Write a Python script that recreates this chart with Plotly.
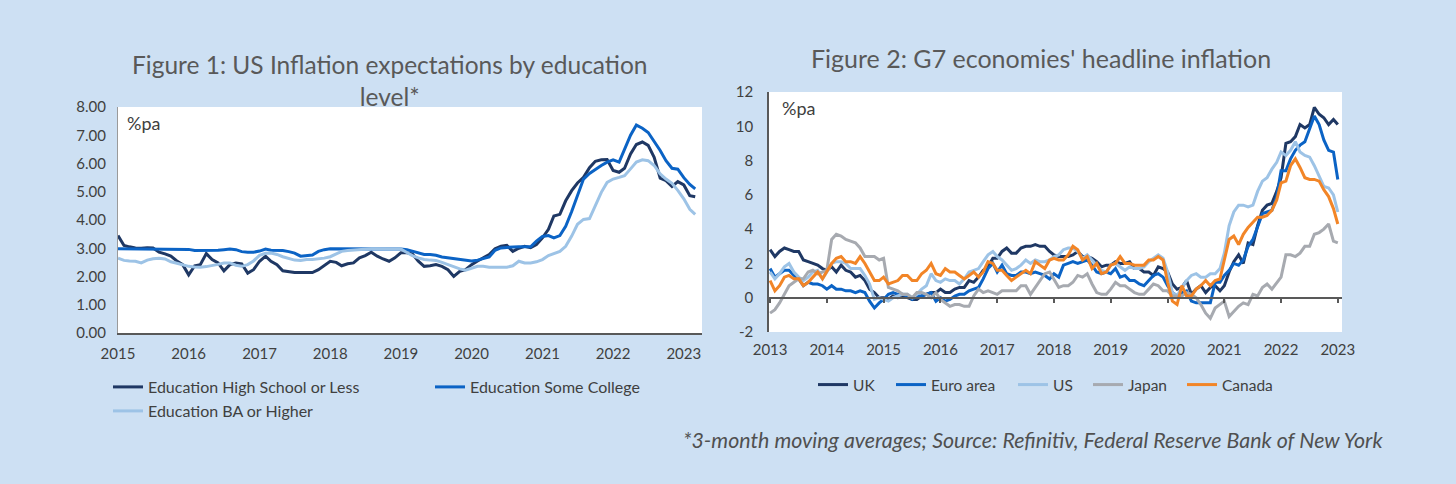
import pandas as pd
import plotly.graph_objects as go

# ---------------- Figure 1 data (monthly, Jan 2015 - Mar 2023) ----------------
edu_dates = pd.date_range("2015-01-01", periods=99, freq="MS")
high_school = [
    3.45, 3.10, 3.05, 3.01, 3.00, 3.02, 3.01, 2.86, 2.80, 2.72, 2.55, 2.42,
    2.06, 2.38, 2.42, 2.81, 2.60, 2.48, 2.20, 2.42, 2.48, 2.45, 2.12, 2.24,
    2.54, 2.72, 2.54, 2.42, 2.20, 2.17, 2.14, 2.14, 2.14, 2.14, 2.24, 2.38,
    2.54, 2.50, 2.38, 2.45, 2.48, 2.66, 2.74, 2.86, 2.72, 2.62, 2.54, 2.66,
    2.84, 2.84, 2.80, 2.54, 2.36, 2.38, 2.42, 2.36, 2.24, 2.00, 2.18, 2.24,
    2.42, 2.55, 2.65, 2.78, 2.98, 3.07, 3.10, 2.89, 3.00, 3.07, 3.02, 3.13,
    3.37, 3.67, 4.14, 4.20, 4.68, 5.04, 5.31, 5.51, 5.85, 6.08, 6.13, 6.14,
    5.75, 5.69, 5.83, 6.34, 6.67, 6.76, 6.64, 6.22, 5.48, 5.39, 5.19, 5.36,
    5.24, 4.86, 4.82,
]
some_college = [
    2.98, 2.98, 2.98, 2.98, 2.98, 2.98, 2.98, 2.98, 2.98, 2.98, 2.98, 2.97,
    2.96, 2.92, 2.92, 2.92, 2.92, 2.93, 2.95, 2.97, 2.95, 2.88, 2.86, 2.86,
    2.90, 2.97, 2.93, 2.93, 2.92, 2.88, 2.83, 2.72, 2.74, 2.76, 2.89, 2.95,
    2.98, 2.98, 2.98, 2.98, 2.98, 2.98, 2.99, 2.99, 2.99, 2.98, 2.98, 2.98,
    2.97, 2.95, 2.90, 2.86, 2.78, 2.78, 2.75, 2.69, 2.66, 2.64, 2.60, 2.57,
    2.55, 2.58, 2.63, 2.69, 2.93, 3.01, 3.03, 3.05, 3.05, 3.05, 3.05, 3.25,
    3.42, 3.45, 3.37, 3.45, 3.78, 4.30, 4.90, 5.45, 5.65, 5.80, 5.93, 6.05,
    6.13, 6.05, 6.50, 7.00, 7.36, 7.25, 7.10, 6.80, 6.46, 6.10, 5.83, 5.80,
    5.50, 5.26, 5.10,
]
ba_or_higher = [
    2.65, 2.57, 2.55, 2.54, 2.48, 2.58, 2.63, 2.65, 2.62, 2.52, 2.47, 2.42,
    2.36, 2.34, 2.33, 2.35, 2.38, 2.43, 2.48, 2.48, 2.40, 2.36, 2.42, 2.55,
    2.75, 2.82, 2.83, 2.78, 2.70, 2.65, 2.58, 2.57, 2.60, 2.60, 2.62, 2.65,
    2.70, 2.80, 2.89, 2.92, 2.94, 2.95, 2.96, 2.98, 2.98, 2.98, 2.98, 2.98,
    2.97, 2.85, 2.74, 2.66, 2.60, 2.58, 2.57, 2.50, 2.42, 2.34, 2.27, 2.22,
    2.30, 2.36, 2.36, 2.33, 2.33, 2.33, 2.33, 2.38, 2.54, 2.48, 2.48, 2.52,
    2.60, 2.74, 2.80, 2.89, 3.07, 3.43, 3.85, 4.02, 4.05, 4.50, 4.98, 5.33,
    5.45, 5.51, 5.57, 5.81, 6.05, 6.13, 6.10, 5.93, 5.63, 5.45, 5.30, 5.05,
    4.75, 4.38, 4.20,
]
edu_years = [2015, 2016, 2017, 2018, 2019, 2020, 2021, 2022, 2023]
edu_ticks = [0.0, 1.0, 2.0, 3.0, 4.0, 5.0, 6.0, 7.0, 8.0]

# ---------------- Figure 2 data (monthly, Mar 2013 - Mar 2023) ----------------
g7_dates = pd.date_range("2013-03-01", periods=121, freq="MS")
uk = [
    2.8, 2.4, 2.7, 2.9, 2.8, 2.7, 2.7, 2.2, 2.1, 2.0,
    1.9, 1.7, 1.6, 1.8, 1.5, 1.9, 1.6, 1.5, 1.2, 1.3, 1.0, 0.5,
    0.3, 0.0, 0.0, -0.1, 0.1, 0.0, 0.1, 0.0, -0.1, -0.1, 0.1, 0.2,
    0.3, 0.3, 0.5, 0.3, 0.3, 0.5, 0.6, 0.6, 1.0, 0.9, 1.2, 1.6,
    1.8, 2.3, 2.3, 2.7, 2.9, 2.6, 2.6, 2.9, 3.0, 3.0, 3.1, 3.0,
    3.0, 2.7, 2.5, 2.4, 2.4, 2.4, 2.5, 2.7, 2.4, 2.4, 2.3, 2.1,
    1.8, 1.9, 1.9, 2.1, 2.0, 2.0, 2.1, 1.7, 1.7, 1.5, 1.5, 1.3,
    1.8, 1.7, 1.5, 0.8, 0.5, 0.6, 1.0, 0.2, 0.5, 0.7, 0.3, 0.6,
    0.7, 0.4, 0.7, 1.5, 2.1, 2.5, 2.0, 3.2, 3.1, 4.2, 5.1, 5.4,
    5.5, 6.2, 7.0, 9.0, 9.1, 9.4, 10.1, 9.9, 10.1, 11.1, 10.7, 10.5,
    10.1, 10.4, 10.1,
]
euro_area = [
    1.7, 1.2, 1.4, 1.6, 1.6, 1.3, 1.1, 0.7, 0.9, 0.8,
    0.8, 0.7, 0.5, 0.7, 0.5, 0.5, 0.4, 0.4, 0.3, 0.4, 0.3, -0.2,
    -0.6, -0.3, -0.1, 0.2, 0.3, 0.2, 0.2, 0.1, -0.1, 0.1, 0.1, 0.2,
    0.3, -0.2, 0.0, -0.2, -0.1, 0.1, 0.2, 0.2, 0.4, 0.5, 0.6, 1.1,
    1.7, 2.0, 1.5, 1.9, 1.4, 1.3, 1.3, 1.5, 1.5, 1.4, 1.5, 1.4,
    1.3, 1.1, 1.4, 1.2, 1.9, 2.0, 2.1, 2.0, 2.1, 2.2, 1.9, 1.5,
    1.4, 1.5, 1.4, 1.7, 1.2, 1.3, 1.0, 1.0, 0.8, 0.7, 1.0, 1.3,
    1.4, 1.2, 0.7, 0.3, 0.1, 0.3, 0.4, -0.2, -0.3, -0.3, -0.3, -0.3,
    0.9, 0.9, 1.3, 1.6, 2.0, 1.9, 2.2, 3.0, 3.4, 4.1, 4.9, 5.0,
    5.1, 5.9, 7.4, 7.4, 8.1, 8.6, 8.9, 9.1, 9.9, 10.6, 10.1, 9.2,
    8.6, 8.5, 6.9,
]
us = [
    1.5, 1.1, 1.4, 1.8, 2.0, 1.5, 1.2, 1.0, 1.2, 1.5,
    1.6, 1.1, 1.5, 2.0, 2.1, 2.1, 2.0, 1.7, 1.7, 1.7, 1.3, 0.8,
    -0.1, 0.0, -0.1, -0.2, 0.0, 0.1, 0.2, 0.2, 0.0, 0.2, 0.5, 0.7,
    1.4, 1.0, 0.9, 1.1, 1.0, 1.0, 0.8, 1.1, 1.5, 1.6, 1.7, 2.1,
    2.5, 2.7, 2.4, 2.2, 1.9, 1.6, 1.7, 1.9, 2.2, 2.0, 2.2, 2.1,
    2.1, 2.2, 2.4, 2.5, 2.8, 2.9, 2.9, 2.7, 2.3, 2.5, 2.2, 1.9,
    1.6, 1.5, 1.9, 2.0, 1.8, 1.6, 1.8, 1.7, 1.7, 1.8, 2.1, 2.3,
    2.5, 2.3, 1.5, 0.3, 0.1, 0.6, 1.0, 1.3, 1.4, 1.2, 1.2, 1.4,
    1.4, 1.7, 2.6, 4.2, 5.0, 5.4, 5.4, 5.3, 5.4, 6.2, 6.8, 7.0,
    7.5, 7.9, 8.5, 8.3, 8.6, 9.1, 8.5, 8.3, 8.2, 7.7, 7.1, 6.5,
    6.4, 6.0, 5.0,
]
japan = [
    -0.9, -0.7, -0.3, 0.2, 0.7, 0.9, 1.1, 1.1, 1.5, 1.6,
    1.4, 1.5, 1.6, 3.4, 3.7, 3.6, 3.4, 3.3, 3.2, 2.9, 2.4, 2.4,
    2.4, 2.2, 2.3, 0.6, 0.5, 0.4, 0.2, 0.2, 0.0, 0.3, 0.3, 0.2,
    0.0, 0.3, -0.1, -0.3, -0.5, -0.4, -0.4, -0.5, -0.5, 0.1, 0.5, 0.3,
    0.4, 0.3, 0.2, 0.4, 0.4, 0.4, 0.4, 0.7, 0.7, 0.2, 0.6, 1.0,
    1.4, 1.5, 1.1, 0.6, 0.7, 0.7, 0.9, 1.3, 1.2, 1.4, 0.8, 0.3,
    0.2, 0.2, 0.5, 0.9, 0.7, 0.7, 0.5, 0.3, 0.2, 0.2, 0.5, 0.8,
    0.7, 0.4, 0.4, 0.1, 0.1, 0.1, 0.3, 0.2, 0.0, -0.4, -0.9, -1.2,
    -0.6, -0.4, -0.2, -1.1, -0.8, -0.5, -0.3, -0.4, 0.2, 0.1, 0.6, 0.8,
    0.5, 0.9, 1.2, 2.5, 2.5, 2.4, 2.6, 3.0, 3.0, 3.7, 3.8, 4.0,
    4.3, 3.3, 3.2,
]
canada = [
    1.0, 0.4, 0.7, 1.2, 1.3, 1.1, 1.1, 0.7, 0.9, 1.2,
    1.5, 1.1, 1.5, 2.0, 2.3, 2.4, 2.1, 2.1, 2.0, 2.4, 2.0, 1.5,
    1.0, 1.0, 1.2, 0.8, 0.9, 1.0, 1.3, 1.3, 1.0, 1.0, 1.4, 1.6,
    2.0, 1.4, 1.3, 1.7, 1.5, 1.5, 1.3, 1.1, 1.3, 1.5, 1.2, 1.5,
    2.1, 2.0, 1.6, 1.6, 1.3, 1.0, 1.2, 1.4, 1.6, 1.4, 2.1, 1.9,
    1.7, 2.2, 2.3, 2.2, 2.2, 2.5, 3.0, 2.8, 2.2, 2.4, 1.7, 2.0,
    1.4, 1.5, 1.9, 2.0, 2.4, 2.0, 2.0, 1.9, 1.9, 1.9, 2.2, 2.2,
    2.4, 2.2, 0.9, -0.2, -0.4, 0.7, 0.1, 0.1, 0.5, 0.7, 1.0, 0.7,
    1.0, 1.1, 2.2, 3.4, 3.6, 3.1, 3.7, 4.1, 4.4, 4.7, 4.7, 4.8,
    5.1, 5.7, 6.7, 6.8, 7.7, 8.1, 7.6, 7.0, 6.9, 6.9, 6.8, 6.3,
    5.9, 5.2, 4.3,
]
g7_years = list(range(2013, 2024))
g7_ticks = [-2, 0, 2, 4, 6, 8, 10, 12]
g7_tick_text = ["-2", "0", "2", "4", "6", "8", "10", "12"]

# ---------------- styling ----------------
BG = "#cde0f3"
FONT = "Lato"
TXT = "#404040"
NAVY, BLUE, LIGHT, GREY, ORANGE = "#1f3864", "#0b63c5", "#9dc3e6", "#a7aab0", "#f28527"
W, H = 1456, 484


def px_x(p):
    return p / W


def px_y(p):
    return 1 - p / H


fig = go.Figure()

# each series gets its own one-item legend box, placed as in the reference
edu_series = [
    ("Education High School or Less", high_school, NAVY, "legend", 108, 387),
    ("Education Some College", some_college, BLUE, "legend2", 430, 387),
    ("Education BA or Higher", ba_or_higher, LIGHT, "legend3", 108, 411),
]
g7_series = [
    ("UK", uk, NAVY, "legend4", 813, 385),
    ("Euro area", euro_area, BLUE, "legend5", 891, 385),
    ("US", us, LIGHT, "legend6", 1013, 385),
    ("Japan", japan, GREY, "legend7", 1088, 385),
    ("Canada", canada, ORANGE, "legend8", 1182, 385),
]

legends = {}
for name, vals, col, lg, lx, ly in edu_series:
    fig.add_trace(go.Scatter(x=edu_dates, y=vals, name=name, mode="lines",
                             line=dict(color=col, width=3), xaxis="x", yaxis="y",
                             legend=lg))
    legends[lg] = dict(x=px_x(lx), y=px_y(ly), xanchor="left", yanchor="middle",
                       orientation="h", bgcolor="rgba(0,0,0,0)",
                       font=dict(family=FONT, size=16, color=TXT))
for name, vals, col, lg, lx, ly in g7_series:
    fig.add_trace(go.Scatter(x=g7_dates, y=vals, name=name, mode="lines",
                             line=dict(color=col, width=3), xaxis="x2", yaxis="y2",
                             legend=lg))
    legends[lg] = dict(x=px_x(lx), y=px_y(ly), xanchor="left", yanchor="middle",
                       orientation="h", bgcolor="rgba(0,0,0,0)",
                       font=dict(family=FONT, size=15.5, color=TXT))

# helper (empty) trace so the zero-line axis with tick marks is drawn
fig.add_trace(go.Scatter(x=[], y=[], xaxis="x3", yaxis="y2", showlegend=False,
                         hoverinfo="skip"))

d1 = [px_y(333), px_y(107)]
d2 = [px_y(332), px_y(92)]
zero_pos = d2[0] + (0 - (-2)) / 14 * (d2[1] - d2[0])

tickfont = dict(family=FONT, size=15, color=TXT)

fig.update_layout(
    width=W, height=H,
    margin=dict(l=0, r=0, t=0, b=0, pad=0, autoexpand=False),
    paper_bgcolor=BG, plot_bgcolor="white",
    font=dict(family=FONT, color=TXT),
    showlegend=True,
    xaxis=dict(domain=[px_x(118), px_x(702)], anchor="y", type="date",
               range=["2015-01-01", "2023-04-05"],
               tickvals=[f"{y}-01-01" for y in edu_years],
               ticktext=[str(y) for y in edu_years],
               showgrid=False, zeroline=False, showline=True,
               linecolor="#595959", linewidth=1.5, ticks="",
               tickfont=tickfont, ticklabelstandoff=6, automargin=False),
    yaxis=dict(domain=d1, anchor="x", range=[0, 8], tickvals=edu_ticks,
               tickformat=".2f", showgrid=False, zeroline=False, showline=True,
               linecolor="#9a9a9a", linewidth=1, ticks="",
               tickfont=tickfont, ticklabelstandoff=8, automargin=False),
    xaxis2=dict(domain=[px_x(769), px_x(1342)], anchor="y2", type="date",
                range=["2013-02-22", "2023-03-28"],
                tickvals=[f"{y}-03-01" for y in g7_years],
                ticktext=[str(y) for y in g7_years],
                showgrid=False, zeroline=False, showline=False, ticks="",
                tickfont=tickfont, ticklabelstandoff=7, automargin=False),
    xaxis3=dict(matches="x2", overlaying="x2", anchor="free", position=zero_pos,
                type="date",
                tickvals=[f"{y}-03-01" for y in g7_years],
                showticklabels=False, showgrid=False, zeroline=False,
                showline=True, linecolor="#595959", linewidth=1.5,
                ticks="outside", ticklen=5, tickwidth=1.5, tickcolor="#595959",
                automargin=False),
    yaxis2=dict(domain=d2, anchor="x2", range=[-2, 12], tickvals=g7_ticks,
                ticktext=g7_tick_text,
                showgrid=False, zeroline=False, showline=True,
                linecolor="#595959", linewidth=1.5, ticks="",
                tickfont=tickfont, ticklabelstandoff=11, automargin=False),
    **legends,
)

annotations = [
    dict(text="Figure 1: US Inflation expectations by education<br>level*",
         x=px_x(390), y=px_y(80), xanchor="center", yanchor="middle",
         font=dict(family=FONT, size=24.5, color="#595959")),
    dict(text="Figure 2: G7 economies' headline inflation",
         x=px_x(1041), y=px_y(58), xanchor="center", yanchor="middle",
         font=dict(family=FONT, size=25, color="#595959")),
    dict(text="%pa", x=px_x(125), y=px_y(123), xanchor="left", yanchor="middle",
         font=dict(family=FONT, size=18, color=TXT)),
    dict(text="%pa", x=px_x(780), y=px_y(108), xanchor="left", yanchor="middle",
         font=dict(family=FONT, size=18, color=TXT)),
    dict(text="<i>*3-month moving averages; Source: Refinitiv, Federal Reserve Bank of New York</i>",
         x=px_x(1385), y=px_y(440), xanchor="right", yanchor="middle",
         font=dict(family=FONT, size=21.4, color="#505050")),
]
for a in annotations:
    a.update(xref="paper", yref="paper", showarrow=False)
fig.update_layout(annotations=annotations)

fig.write_html("out.html", config={"displayModeBar": False},
               post_script="document.body.style.margin='0';document.body.style.overflow='hidden';")
